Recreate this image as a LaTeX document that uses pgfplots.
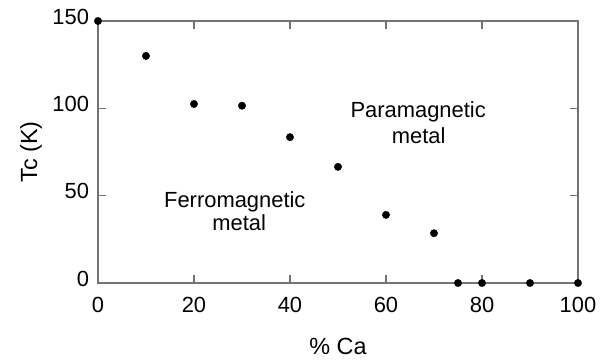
\documentclass[border=0pt]{standalone}
\usepackage{fontspec}
\setmainfont{Liberation Sans}
\usepackage{pgfplots}
\pgfplotsset{compat=1.18}
\begin{document}
\begin{tikzpicture}
\begin{axis}[
  scale only axis, width=480bp, height=262bp,
  xmin=0, xmax=100, ymin=0, ymax=150,
  xtick={0,20,40,60,80,100}, ytick={0,50,100,150},
  tick align=inside, major tick length=8bp,
  axis line style={draw=black!55, line width=1.2bp},
  every tick/.style={draw=black!55, line width=1.2bp},
  font=\fontsize{22}{26}\selectfont,
  /pgf/number format/assume math mode=true,
  tick label style={font=\fontsize{22}{26}\selectfont},
  xticklabel style={yshift=-11bp},
  yticklabel style={xshift=-5.5bp, yshift=4.5bp},
  xlabel={\% Ca}, ylabel={Tc (K)},
  label style={font=\fontsize{23.5}{27}\selectfont},
  xlabel style={at={(axis description cs:0.5,-0.2748)}, anchor=base},
  ylabel style={at={(axis description cs:-0.127,0.5)}, anchor=base},
  clip=false,
]
\addplot[only marks, mark=*, mark size=3.7bp, black] coordinates {
(0,150) (10,130) (20,102.5) (30,101.5) (40,83.5) (50,66.5) (60,39) (70,28.5) (75,0) (80,0) (90,0) (100,0)
};
\node[anchor=base, font=\fontsize{22}{26}\selectfont] at (axis cs:66.7,95) {Paramagnetic};
\node[anchor=base, font=\fontsize{22}{26}\selectfont] at (axis cs:66.8,80.1) {metal};
\node[anchor=base, font=\fontsize{22}{26}\selectfont] at (axis cs:28.5,43.5) {Ferromagnetic};
\node[anchor=base, font=\fontsize{22}{26}\selectfont] at (axis cs:29.4,29.8) {metal};
\end{axis}
\pgfresetboundingbox
\useasboundingbox ([xshift=-98bp,yshift=-77bp]current axis.south west) rectangle ([xshift=24bp,yshift=21bp]current axis.north east);
\end{tikzpicture}
\end{document}
